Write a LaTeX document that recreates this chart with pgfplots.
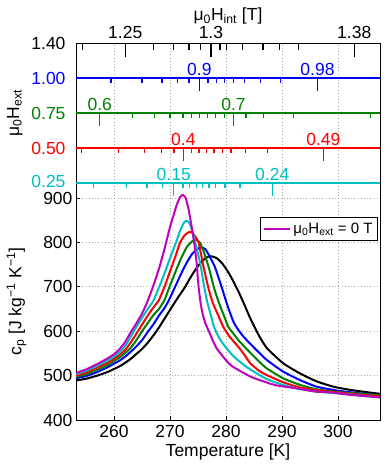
\documentclass[border=0pt]{standalone}
\usepackage{fontspec}
\setmainfont{Liberation Sans}
\usepackage{pgfplots}
\pgfplotsset{compat=1.18}

\definecolor{mblue}{rgb}{0,0,1}
\definecolor{mgreen}{rgb}{0,0.5,0}
\definecolor{mred}{rgb}{1,0,0}
\definecolor{mcyan}{rgb}{0,0.75,0.75}
\definecolor{mmag}{rgb}{0.75,0,0.75}

\newcommand{\fnt}{\fontsize{17.5}{21}\selectfont}

\tikzset{gridl/.style={gray!70, line width=0.8pt, dash pattern=on 0.8pt off 2.4pt}}
\pgfplotsset{
  hl/.style={line width=1.1pt, no marks, draw=#1, forget plot},
  seg/.style={line width=1.3pt, no marks, color=#1, draw=#1, forget plot,
              unbounded coords=jump},
  curve/.style={line width=2pt, smooth, tension=0.35},
}

\begin{document}
\begin{tikzpicture}[font=\fnt]
% one axis: lower part is c_p (400..934), upper strip holds the field scales
% field strip: y = 934 + (B-0.25)*315.4
\begin{axis}[
  name=ax, at={(0,0)}, anchor=south west,
  scale only axis, width=304pt, height=377pt,
  xmin=253.2, xmax=307.5, ymin=400, ymax=1249.4,
  axis line style={line width=0.9pt},
  /pgf/number format/assume math mode=true,
  tick label style={font=\fnt}, label style={font=\fnt},
  xtick={260,270,...,300}, ytick={400,500,...,900},
  xtick pos=left, ytick pos=left, tick align=inside, major tick length=4pt,
  tick style={line width=0.9pt, black},
  grid=major, grid style={gridl},
  xticklabel style={yshift=-2pt},
  xlabel={Temperature [K]},
  xlabel style={at={(axis description cs:0.5,0)}, anchor=base, yshift=-36.7pt},
  ylabel={c\textsubscript{p} [J kg\textsuperscript{−1} K\textsuperscript{−1}]},
  ylabel style={at={(axis description cs:-0.18,0.3143)}, anchor=base},
  legend style={at={(0.9934,0.5385)}, anchor=north east, draw=black, fill=white,
                line width=0.9pt,
                font=\fontsize{15}{18}\selectfont, inner xsep=3pt, inner ysep=3.5pt},
  legend image code/.code={\draw[#1] (0pt,0pt) -- (26pt,0pt);},
]
% ---- field strip ----
\addplot[hl=mblue] coordinates {(253.2,1170.55)(307.5,1170.55)};
\addplot[hl=mgreen] coordinates {(253.2,1091.7)(307.5,1091.7)};
\addplot[hl=mred] coordinates {(253.2,1012.85)(307.5,1012.85)};
\addplot[hl=mcyan] coordinates {(253.2,934)(307.5,934)};
% blue ticks
\addplot[seg=mblue] coordinates {
(259.46,1170.55)(259.46,1158.16)(259.46,nan) (265.0,1170.55)(265.0,1158.16)(265.0,nan)
(268.57,1170.55)(268.57,1158.16)(268.57,nan) (271.38,1170.55)(271.38,1158.16)(271.38,nan)
(273.39,1170.55)(273.39,1158.16)(273.39,nan) (276.79,1170.55)(276.79,1158.16)(276.79,nan)
(278.27,1170.55)(278.27,1158.16)(278.27,nan) (279.70,1170.55)(279.70,1158.16)(279.70,nan)
(281.34,1170.55)(281.34,1158.16)(281.34,nan) (283.30,1170.55)(283.30,1158.16)(283.30,nan)
(286.16,1170.55)(286.16,1158.16)(286.16,nan) (289.70,1170.55)(289.70,1158.16)(289.70,nan)
(275.23,1170.55)(275.23,1140.13)(275.23,nan) (296.34,1170.55)(296.34,1140.13)};
% green ticks
\addplot[seg=mgreen] coordinates {
(263.30,1091.7)(263.30,1079.31)(263.30,nan) (267.27,1091.7)(267.27,1079.31)(267.27,nan)
(270.00,1091.7)(270.00,1079.31)(270.00,nan) (272.32,1091.7)(272.32,1079.31)(272.32,nan)
(273.84,1091.7)(273.84,1079.31)(273.84,nan) (275.30,1091.7)(275.30,1079.31)(275.30,nan)
(276.70,1091.7)(276.70,1079.31)(276.70,nan) (278.13,1091.7)(278.13,1079.31)(278.13,nan)
(279.68,1091.7)(279.68,1079.31)(279.68,nan) (283.57,1091.7)(283.57,1079.31)(283.57,nan)
(286.66,1091.7)(286.66,1079.31)(286.66,nan) (292.02,1091.7)(292.02,1079.31)(292.02,nan)
(305.84,1091.7)(305.84,1079.31)(305.84,nan)
(257.45,1091.7)(257.45,1061.28)(257.45,nan) (281.34,1091.7)(281.34,1061.28)};
% red ticks
\addplot[seg=mred] coordinates {
(254.23,1012.85)(254.23,1000.46)(254.23,nan) (260.80,1012.85)(260.80,1000.46)(260.80,nan)
(265.45,1012.85)(265.45,1000.46)(265.45,nan) (268.52,1012.85)(268.52,1000.46)(268.52,nan)
(270.71,1012.85)(270.71,1000.46)(270.71,nan) (273.88,1012.85)(273.88,1000.46)(273.88,nan)
(275.18,1012.85)(275.18,1000.46)(275.18,nan) (276.48,1012.85)(276.48,1000.46)(276.48,nan)
(277.86,1012.85)(277.86,1000.46)(277.86,nan) (279.34,1012.85)(279.34,1000.46)(279.34,nan)
(280.89,1012.85)(280.89,1000.46)(280.89,nan) (283.45,1012.85)(283.45,1000.46)(283.45,nan)
(287.38,1012.85)(287.38,1000.46)(287.38,nan)
(272.38,1012.85)(272.38,982.43)(272.38,nan) (297.38,1012.85)(297.38,982.43)};
% cyan ticks
\addplot[seg=mcyan] coordinates {
(256.30,934)(256.30,921.61)(256.30,nan) (262.27,934)(262.27,921.61)(262.27,nan)
(265.89,934)(265.89,921.61)(265.89,nan) (268.61,934)(268.61,921.61)(268.61,nan)
(272.32,934)(272.32,921.61)(272.32,nan) (273.52,934)(273.52,921.61)(273.52,nan)
(274.77,934)(274.77,921.61)(274.77,nan) (275.75,934)(275.75,921.61)(275.75,nan)
(276.93,934)(276.93,921.61)(276.93,nan) (278.13,934)(278.13,921.61)(278.13,nan)
(279.79,934)(279.79,921.61)(279.79,nan) (282.50,934)(282.50,921.61)(282.50,nan)
(270.66,934)(270.66,903.58)(270.66,nan) (288.25,934)(288.25,903.58)};
% internal-field scale on the top edge
\addplot[seg=black] coordinates {
(262.0,1249.4)(262.0,1217.9)(262.0,nan) (277.3,1249.4)(277.3,1217.9)(277.3,nan)
(302.9,1249.4)(302.9,1217.9)(302.9,nan)
(254.4,1249.4)(254.4,1233.6)(254.4,nan) (267.0,1249.4)(267.0,1233.6)(267.0,nan)
(270.6,1249.4)(270.6,1233.6)(270.6,nan) (273.4,1249.4)(273.4,1233.6)(273.4,nan)
(275.5,1249.4)(275.5,1233.6)(275.5,nan) (278.9,1249.4)(278.9,1233.6)(278.9,nan)
(280.1,1249.4)(280.1,1233.6)(280.1,nan) (282.9,1249.4)(282.9,1233.6)(282.9,nan)
(286.6,1249.4)(286.6,1233.6)(286.6,nan) (289.6,1249.4)(289.6,1233.6)(289.6,nan)
(292.9,1249.4)(292.9,1233.6)};

% ---- heat capacity curves ----
\addplot[curve, black, forget plot] coordinates {
(253.2,489)(255,493)(257,500)(259,509)(260,515)(261,521)(262,529)(263,538)
(264,549)(265,560)(266,574)(267,590)(268,608)(269,628)(270,648)(271.1,670)
(272.7,700)(273.6,720)(274.5,738)(275.5,755)(276.5,766)(277.3,769)(278.3,765)
(279.3,753)(280.3,735)(281.2,715)(282.2,690)(283.2,662)(284.3,630)(285.8,592)
(287.3,562)(290.2,528)(293.2,505)(296.2,487)(299.2,475)(302.1,468)(305,463)
(307.5,459)};
\addplot[curve, mblue, forget plot] coordinates {
(253.2,494)(255,499)(257,508)(259,520)(260,527)(261,534)(262,543)(263,554)
(264,566)(265,580)(266,598)(267,615)(268,635)(269,652)(269.8,670)(270.9,700)
(272,730)(273,755)(274,775)(275,786)(275.6,789)(276.3,785)(277,770)(278,745)
(279.2,700)(280.2,660)(281.3,622)(282.2,603)(283.1,588)(284.3,572)(285.8,553)
(287.3,535)(290.2,509)(293.2,490)(296.2,475)(300,466)(304,460)(307.5,456)};
\addplot[curve, mgreen, forget plot] coordinates {
(253.2,497)(255,503)(257,513)(259,525)(260,533)(261,541)(262,551)(263,563)
(264,580)(265,600)(266,618)(267,636)(268,650)(269,670)(269.9,700)(271,735)
(272,765)(273,790)(274,803)(274.6,806)(275.3,800)(276,780)(277,740)(277.8,700)
(278.7,665)(279.6,636)(280.4,610)(281.3,595)(282.2,580)(283.3,565)(284.3,552)
(285.8,533)(287.3,516)(290.2,494)(293,480)(296.2,469)(300,463)(304,459)
(307.5,456)};
\addplot[curve, mred, forget plot] coordinates {
(253.2,500)(255,507)(257,518)(259,530)(260,538)(261,547)(262,558)(263,575)
(264,595)(265,615)(266,635)(267,653)(268,670)(269,700)(270,735)(271,770)
(271.8,800)(272.6,816)(273.2,822)(273.75,824)(274.4,815)(275.1,800)(275.9,750)
(276.8,700)(277.6,665)(278.6,636)(279.5,610)(280.5,590)(281.5,575)(282.5,560)
(283.5,543)(284.3,528)(286,510)(287.3,501)(290.2,485)(293,474)(296.2,467)
(300,462)(304,457)(307.5,454)};
\addplot[curve, mcyan, forget plot] coordinates {
(253.2,503)(255,511)(257,522)(259,535)(260,543)(261,553)(262,567)(263,588)
(264,610)(265,630)(266,650)(267,668)(268,698)(269,730)(270,765)(271,798)
(271.8,826)(272.4,843)(272.9,849)(273.4,845)(274,825)(274.5,800)(275,775)
(275.5,745)(276.1,700)(276.6,668)(277.2,640)(277.8,612)(278.4,594)(279,580)
(280,563)(281,548)(282,536)(284.3,514)(287.3,492)(290.2,479)(293,470)
(296.2,464)(300,460)(304,455)(307.5,451)};
\addplot[curve, mmag] coordinates {
(253.2,506)(255,514)(257,526)(259,540)(260,548)(261,560)(262,576)(263,598)
(264,618)(265,640)(266,668)(267,702)(268,740)(269,785)(270,835)(270.6,860)
(271.2,885)(271.8,902)(272.3,907)(272.8,900)(273.3,875)(273.8,840)(274.3,800)
(274.7,760)(275.1,700)(275.5,660)(275.9,635)(276.4,615)(277,598)(277.6,580)
(278.3,562)(279.2,547)(280.1,533)(281,522)(282.3,512)(284.5,497)(286.9,486)
(289,478)(292.8,471)(296,464)(298.8,462)(302,457)(307.5,451)};
\addlegendentry{μ\textsubscript{0}H\textsubscript{ext} = 0 T}

% field values written on the lines
\node[mblue, anchor=base, yshift=2.5pt] at (axis cs:275.23,1170.55) {0.9};
\node[mblue, anchor=base, yshift=2.5pt] at (axis cs:296.34,1170.55) {0.98};
\node[mgreen, anchor=base, yshift=2.5pt] at (axis cs:257.45,1091.7) {0.6};
\node[mgreen, anchor=base, yshift=2.5pt] at (axis cs:281.34,1091.7) {0.7};
\node[mred, anchor=base, yshift=2.5pt] at (axis cs:272.38,1012.85) {0.4};
\node[mred, anchor=base, yshift=2.5pt] at (axis cs:297.38,1012.85) {0.49};
\node[mcyan, anchor=base, yshift=2.5pt] at (axis cs:270.66,934) {0.15};
\node[mcyan, anchor=base, yshift=2.5pt] at (axis cs:288.25,934) {0.24};

\coordinate (y140) at (axis cs:253.2,1249.4);
\coordinate (y100) at (axis cs:253.2,1170.55);
\coordinate (y075) at (axis cs:253.2,1091.7);
\coordinate (y050) at (axis cs:253.2,1012.85);
\coordinate (y025) at (axis cs:253.2,934);
\coordinate (h125) at (axis cs:262.0,1249.4);
\coordinate (h130) at (axis cs:277.3,1249.4);
\coordinate (h138) at (axis cs:302.9,1249.4);
\coordinate (hlab) at (axis description cs:0.5,1);
\coordinate (flab) at (axis description cs:-0.1875,0.814);
\end{axis}

% labels of the field strip
\node[anchor=east, xshift=-7pt] at (y140) {1.40};
\node[mblue, anchor=east, xshift=-7pt] at (y100) {1.00};
\node[mgreen, anchor=east, xshift=-7pt] at (y075) {0.75};
\node[mred, anchor=east, xshift=-7pt] at (y050) {0.50};
\node[mcyan, anchor=east, xshift=-7pt, yshift=2pt] at (y025) {0.25};
\node[anchor=base, yshift=4pt] at (h125) {1.25};
\node[anchor=base, yshift=4pt] at (h130) {1.3};
\node[anchor=base, yshift=4pt] at (h138) {1.38};
\node[anchor=base, yshift=22.5pt] at (hlab) {μ\textsubscript{0}H\textsubscript{int} [T]};
\node[anchor=base, rotate=90] at (flab) {μ\textsubscript{0}H\textsubscript{ext}};

\pgfresetboundingbox
\path[use as bounding box] (-76pt,-45pt) rectangle (314pt,420pt);
\end{tikzpicture}
\end{document}
